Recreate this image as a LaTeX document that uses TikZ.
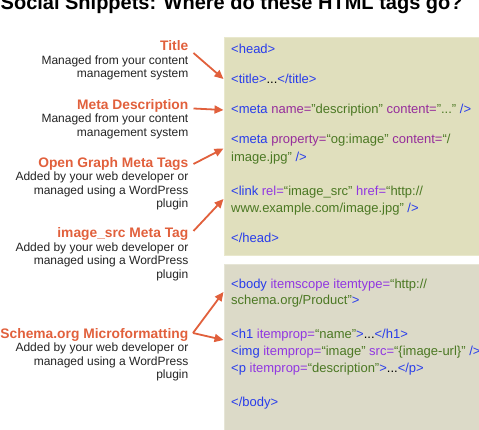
\documentclass[tikz,border=0pt]{standalone}
\usepackage{fontspec}
\setmainfont{Liberation Sans}
\usetikzlibrary{arrows.meta}
\definecolor{hot}{RGB}{225,96,60}
\definecolor{subgray}{RGB}{35,35,35}
\definecolor{tagblue}{RGB}{40,60,235}
\definecolor{attra}{RGB}{150,45,155}
\definecolor{attrb}{RGB}{145,55,225}
\definecolor{valgreen}{RGB}{75,120,35}
\definecolor{headfill}{RGB}{224,223,189}
\definecolor{headline}{RGB}{233,232,205}
\definecolor{bodyfill}{RGB}{220,218,200}
\definecolor{bodyline}{RGB}{230,229,214}
\newcommand\ctag[1]{\textcolor{tagblue}{#1}}
\newcommand\cattr[1]{\textcolor{attra}{#1}}
\newcommand\cattrb[1]{\textcolor{attrb}{#1}}
\newcommand\cval[1]{\textcolor{valgreen}{#1}}
\begin{document}
\begin{tikzpicture}[x=1pt,y=-1pt,
  lbl/.style={font=\fontsize{13.8}{16}\selectfont\bfseries, text=hot, anchor=base east, inner sep=0pt},
  sub/.style={font=\fontsize{12}{14}\selectfont, text=subgray, anchor=base east, inner sep=0pt},
  code/.style={font=\fontsize{13}{15}\selectfont, text=black, anchor=base west, inner sep=0pt},
  arr/.style={draw=hot, line width=1.8pt, -{Triangle[length=9pt,width=8pt,fill=hot]}},
  headbox/.style={fill=headfill, draw=headline, line width=1pt},
  bodybox/.style={fill=bodyfill, draw=bodyline, line width=1pt}]
\useasboundingbox (0,0) rectangle (479,430);

% title
\node[font=\fontsize{20}{24}\selectfont\bfseries, anchor=base west, inner sep=0pt] (hdr) at (0.5,9.5) {Social Snippets: Where do these HTML tags go?};

% boxes
\path[headbox] (224,38) rectangle (481,256);
\path[bodybox] (224,265) rectangle (481,432);

% head code
\node[code] (c1) at (231,54) {\ctag{<head>}};
\node[code] (c2) at (231,84) {\ctag{<title>}...\ctag{</title>}};
\node[code] (c3) at (231,113.5) {\ctag{<meta} \cattr{name=}\cval{"description"} \cattr{content=}\cval{"..."} \ctag{/>}};
\node[code] (c4) at (231,144) {\ctag{<meta} \cattr{property=}\cval{“og:image”} \cattr{content=}\cval{“/}};
\node[code] (c4b) at (231,161.5) {\cval{image.jpg”} \ctag{/>}};
\node[code] (c5) at (231,195.5) {\ctag{<link} \cattrb{rel=}\cval{“image\_src”} \cattrb{href=}\cval{“http://}};
\node[code] (c5b) at (231,212.5) {\cval{www.example.com/image.jpg”} \ctag{/>}};
\node[code] (c6) at (231,242.5) {\ctag{</head>}};

% body code
\node[code] (b1) at (231,288) {\ctag{<body} \cattrb{itemscope itemtype=}\cval{“http://}};
\node[code] (b1b) at (231,304.5) {\cval{schema.org/Product”}\ctag{>}};
\node[code] (b2) at (231,338) {\ctag{<h1} \cattrb{itemprop=}\cval{“name”}\ctag{>}...\ctag{</h1>}};
\node[code] (b3) at (231,355) {\ctag{<img} \cattrb{itemprop=}\cval{“image”} \cattrb{src=}\cval{“\{image-url\}”} \ctag{/>}};
\node[code] (b4) at (231,372) {\ctag{<p} \cattrb{itemprop=}\cval{“description”}\ctag{>}...\ctag{</p>}};
\node[code] (b5) at (231,406.5) {\ctag{</body>}};

% left labels
\node[lbl] (ttl) at (188.5,51) {Title};
\node[sub] (ttl1) at (188.5,64.5) {Managed from your content};
\node[sub] (ttl2) at (188.5,78) {management system};

\node[lbl] (mds) at (188.5,109.5) {Meta Description};
\node[sub] (mds1) at (188.5,123) {Managed from your content};
\node[sub] (mds2) at (188.5,136.5) {management system};

\node[lbl] (ogt) at (188.5,167.5) {Open Graph Meta Tags};
\node[sub] (ogt1) at (188.5,181) {Added by your web developer or};
\node[sub] (ogt2) at (188.5,194.5) {managed using a WordPress};
\node[sub] (ogt3) at (188.5,208) {plugin};

\node[lbl] (isr) at (188.5,238) {image\_src Meta Tag};
\node[sub] (isr1) at (188.5,251.5) {Added by your web developer or};
\node[sub] (isr2) at (188.5,265) {managed using a WordPress};
\node[sub] (isr3) at (188.5,278.5) {plugin};

\node[lbl] (sch) at (188.5,338) {Schema.org Microformatting};
\node[sub] (sch1) at (188.5,351.5) {Added by your web developer or};
\node[sub] (sch2) at (188.5,365) {managed using a WordPress};
\node[sub] (sch3) at (188.5,378.5) {plugin};

% arrow targets
\coordinate (tTtl) at (223.5,79);
\coordinate (tMds) at (223.5,110);
\coordinate (tOgt) at (223.5,148.5);
\coordinate (tIsr) at (223.5,199);
\coordinate (tSchA) at (223.5,292);
\coordinate (tSchB) at (223.5,340);

\draw[arr] ([shift={(5,2)}]ttl.base east) -- (tTtl);
\draw[arr] ([shift={(5,-1)}]mds.base east) -- (tMds);
\draw[arr] ([shift={(5,-3.5)}]ogt.base east) -- (tOgt);
\draw[arr] ([shift={(5,-7)}]isr.base east) -- (tIsr);
\draw[arr] ([shift={(4.5,-5)}]sch.base east) -- (tSchA);
\draw[arr] ([shift={(4.5,-5)}]sch.base east) -- (tSchB);
\end{tikzpicture}
\end{document}
